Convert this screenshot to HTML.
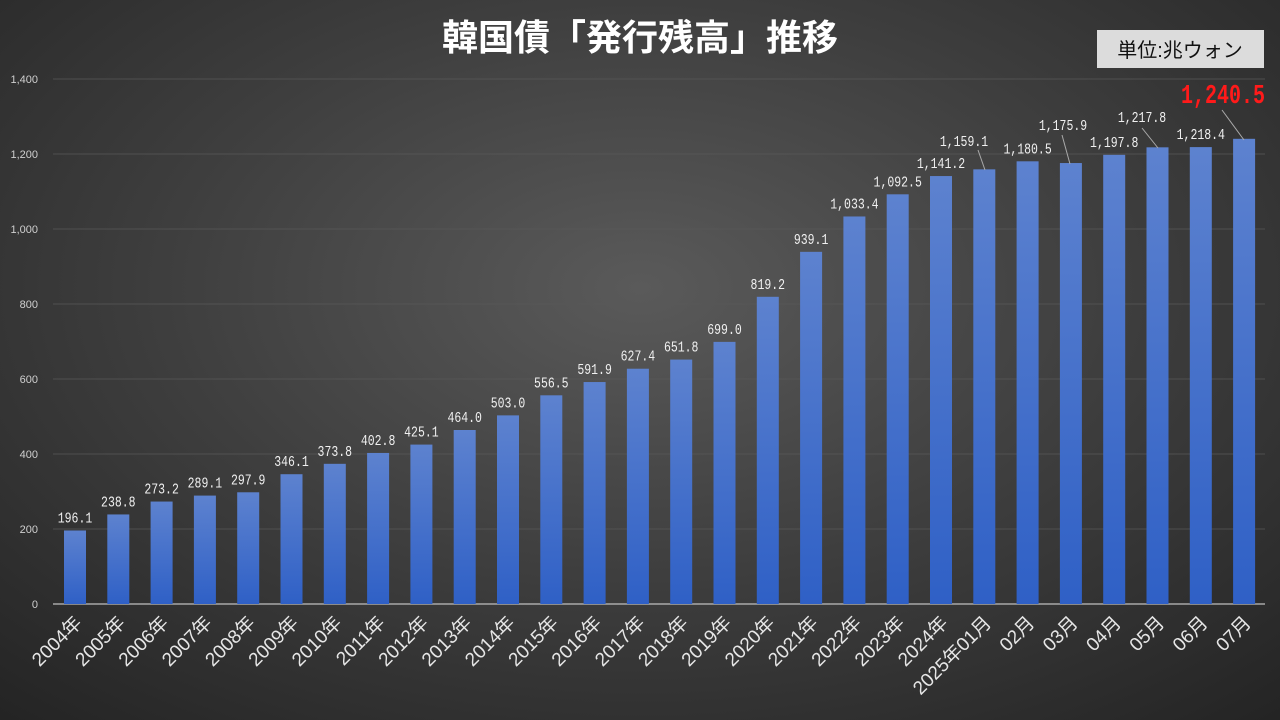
<!DOCTYPE html>
<html><head><meta charset="utf-8"><style>
html,body{margin:0;padding:0;width:1280px;height:720px;overflow:hidden;}
body{background:radial-gradient(ellipse 75% 80% at 50% 40%,#5a5a5a 0%,#3e3e3e 50%,#242424 100%);}
svg{position:absolute;left:0;top:0;}
</style></head><body>
<svg id="s" width="1280" height="720" xmlns="http://www.w3.org/2000/svg">
<defs><linearGradient id="g" x1="0" y1="0" x2="0" y2="1"><stop offset="0" stop-color="#5d82cf"/><stop offset="1" stop-color="#2f60c6"/></linearGradient></defs>
<text x="640" y="50" text-anchor="middle" fill="#fff" font-size="36" font-weight="bold" font-family="'Liberation Sans','Noto Sans CJK JP',sans-serif">韓国債「発行残高」推移</text>
<rect x="1097" y="30" width="167" height="38" fill="#dcdcdc"/>
<text x="1180" y="57" text-anchor="middle" fill="#111" font-size="20" font-family="'Liberation Sans','Noto Sans CJK JP',sans-serif">単位:兆ウォン</text>
</svg>
<script>
const s=document.getElementById('s'),NS='http://www.w3.org/2000/svg';
function el(t,a,txt){const e=document.createElementNS(NS,t);for(const k in a)e.setAttribute(k,a[k]);if(txt!==undefined)e.textContent=txt;s.appendChild(e);return e;}
const y0=604,k=0.375;
for(let v=0;v<=1400;v+=200){const y=y0-v*k;
 el('line',{x1:53,x2:1265,y1:y,y2:y,stroke:v?'#585858':'#bfbfbf','stroke-width':v?0.8:1.2});
 el('text',{x:38,y:y+4,'text-anchor':'end',fill:'#cfcfcf','font-size':11,'font-family':'Liberation Sans,sans-serif'},v.toLocaleString('en-US'));}
const vals=[196.1,238.8,273.2,289.1,297.9,346.1,373.8,402.8,425.1,464.0,503.0,556.5,591.9,627.4,651.8,699.0,819.2,939.1,1033.4,1092.5,1141.2,1159.1,1180.5,1175.9,1197.8,1217.8,1218.4,1240.5];
const labs=[];for(let y=2004;y<=2024;y++)labs.push(y+'年');labs.push('2025年01月','02月','03月','04月','05月','06月','07月');
const F="'Liberation Mono',monospace";
vals.forEach((v,i)=>{const c=75+43.3*i,top=y0-v*k;
 el('rect',{x:c-11,y:top,width:22,height:v*k,fill:'url(#g)'});
 el('text',{transform:`translate(${c+8},${624}) rotate(-45)`,'text-anchor':'end',fill:'#e6e6e6','font-size':19,'font-family':"'Liberation Sans','Noto Sans CJK JP',sans-serif"},labs[i]);
 let lx=c,ly=top-8,special=false;
 const s2=v.toLocaleString('en-US',{minimumFractionDigits:1});
 if(i==21){lx=964;ly=146;el('line',{x1:978,y1:150,x2:985,y2:170,stroke:'#aaa'});}
 else if(i==23){lx=1063;ly=130;el('line',{x1:1062,y1:135,x2:1070,y2:164,stroke:'#aaa'});}
 else if(i==25){lx=1142;ly=122;el('line',{x1:1142,y1:128,x2:1158,y2:148,stroke:'#aaa'});}
 else if(i==27){special=true;el('line',{x1:1222,y1:110,x2:1244,y2:140,stroke:'#aaa'});
  el('text',{x:1223,y:103,'text-anchor':'middle',fill:'#ff1a1a','font-size':27,'font-weight':'bold','font-family':F,textLength:84,lengthAdjust:'spacingAndGlyphs'},s2);}
 if(!special)el('text',{x:lx,y:ly,'text-anchor':'middle',fill:'#f0f0f0','font-size':15,'font-family':F,textLength:s2.length*6.9,lengthAdjust:'spacingAndGlyphs'},s2);
});
</script>
</body></html>
